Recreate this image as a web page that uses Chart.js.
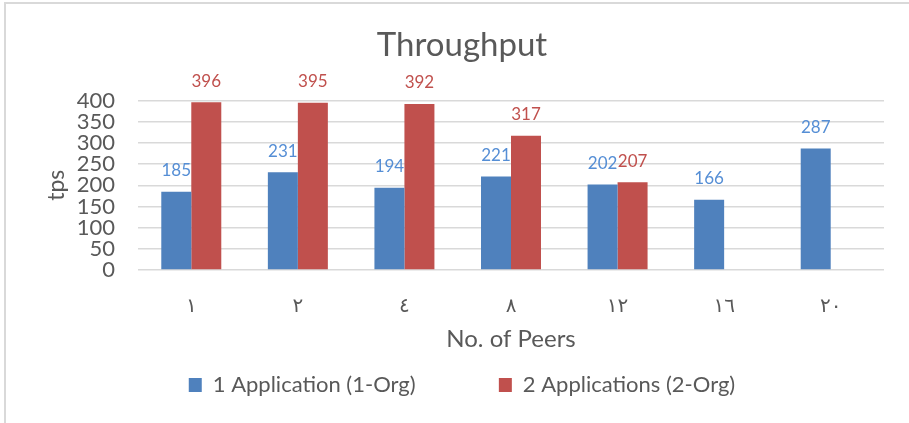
<!DOCTYPE html>
<html>
<head>
<meta charset="utf-8">
<script src="https://cdn.jsdelivr.net/npm/chart.js@4.4.1/dist/chart.umd.min.js"></script>
<style>
  html, body { margin: 0; padding: 0; background: #fff; }
</style>
</head>
<body>
<canvas id="throughputChart" width="909" height="423"></canvas>
<script>
// Chart data
const peers = ['١', '٢', '٤', '٨', '١٢', '١٦', '٢٠'];
const oneApp = [185, 231, 194, 221, 202, 166, 287];
const twoApps = [396, 395, 392, 317, 207, null, null];
const seriesNames = ['1 Application (1-Org)', '2 Applications (2-Org)'];
const yMin = 0;
const yMax = 400;
const yStep = 50;

const FONT = "Lato, 'DejaVu Sans', sans-serif";
const GREY = '#595959';
const GRID = '#d9d9d9';
const barColors = ['#4f81bd', '#c0504d'];
const labelColors = ['#558ed5', '#c0504d'];

// white background plus the thin frame on the top/left edge
const chartFrame = {
    id: 'chartFrame',
    beforeDraw(chart) {
        const ctx = chart.ctx;
        ctx.save();
        ctx.fillStyle = '#fff';
        ctx.fillRect(0, 0, chart.width, chart.height);
        ctx.strokeStyle = GRID;
        ctx.lineWidth = 2;
        ctx.beginPath();
        ctx.moveTo(5, chart.height);
        ctx.lineTo(5, 3);
        ctx.lineTo(chart.width, 3);
        ctx.stroke();
        ctx.restore();
    }
};

// value labels above each bar
const barValueLabels = {
    id: 'barValueLabels',
    afterDatasetsDraw(chart) {
        const ctx = chart.ctx;
        ctx.save();
        ctx.font = '17px ' + FONT;
        ctx.textAlign = 'center';
        ctx.textBaseline = 'middle';
        chart.data.datasets.forEach((ds, i) => {
            const meta = chart.getDatasetMeta(i);
            ctx.fillStyle = labelColors[i];
            meta.data.forEach((bar, j) => {
                const v = ds.data[j];
                if (v === null || v === undefined) return;
                ctx.fillText(String(v), bar.x, bar.y - 21);
            });
        });
        ctx.restore();
    }
};

const ctx = document.getElementById('throughputChart').getContext('2d');

new Chart(ctx, {
    type: 'bar',
    data: {
        labels: peers,
        datasets: [{
            label: seriesNames[0],
            data: oneApp,
            backgroundColor: barColors[0],
            categoryPercentage: 0.563,
            barPercentage: 1
        }, {
            label: seriesNames[1],
            data: twoApps,
            backgroundColor: barColors[1],
            categoryPercentage: 0.563,
            barPercentage: 1
        }]
    },
    options: {
        responsive: false,
        animation: false,
        devicePixelRatio: 1,
        layout: {
            padding: { left: 40, right: 25, top: 0, bottom: 17 }
        },
        plugins: {
            title: {
                display: true,
                text: 'Throughput',
                color: GREY,
                font: { family: FONT, size: 33, weight: 'normal' },
                padding: { top: 26, bottom: 35 }
            },
            legend: {
                position: 'bottom',
                labels: {
                    color: GREY,
                    font: { family: FONT, size: 22 },
                    boxWidth: 13,
                    boxHeight: 14,
                    padding: 10,
                    generateLabels(chart) {
                        const items = Chart.defaults.plugins.legend.labels.generateLabels(chart);
                        // widen the gap between the two entries
                        const c = chart.ctx;
                        c.save();
                        c.font = '22px ' + FONT;
                        const sp = c.measureText(' ').width || 5;
                        c.restore();
                        items[0].text += ' '.repeat(Math.round(72 / sp));
                        items.forEach(it => { it.lineWidth = 0; });
                        return items;
                    }
                }
            },
            tooltip: { enabled: false }
        },
        scales: {
            x: {
                grid: { display: false },
                border: { display: false },
                ticks: {
                    color: GREY,
                    font: { family: FONT, size: 20 },
                    padding: 16
                },
                title: {
                    display: true,
                    text: 'No. of Peers',
                    color: GREY,
                    font: { family: FONT, size: 24 },
                    padding: { top: 0, bottom: 10 }
                },
                afterFit(scale) {
                    scale.height = 94;
                }
            },
            y: {
                min: yMin,
                max: yMax,
                grid: { color: GRID, lineWidth: 1.5, drawTicks: false },
                border: { display: false },
                ticks: {
                    stepSize: yStep,
                    autoSkip: false,
                    color: GREY,
                    font: { family: FONT, size: 22 },
                    padding: 23
                },
                title: {
                    display: true,
                    text: 'tps',
                    color: GREY,
                    font: { family: FONT, size: 23 },
                    padding: { top: 3, bottom: 0 }
                },
                afterFit(scale) {
                    scale.width = 98;
                }
            }
        }
    },
    plugins: [chartFrame, barValueLabels]
});
</script>
</body>
</html>
